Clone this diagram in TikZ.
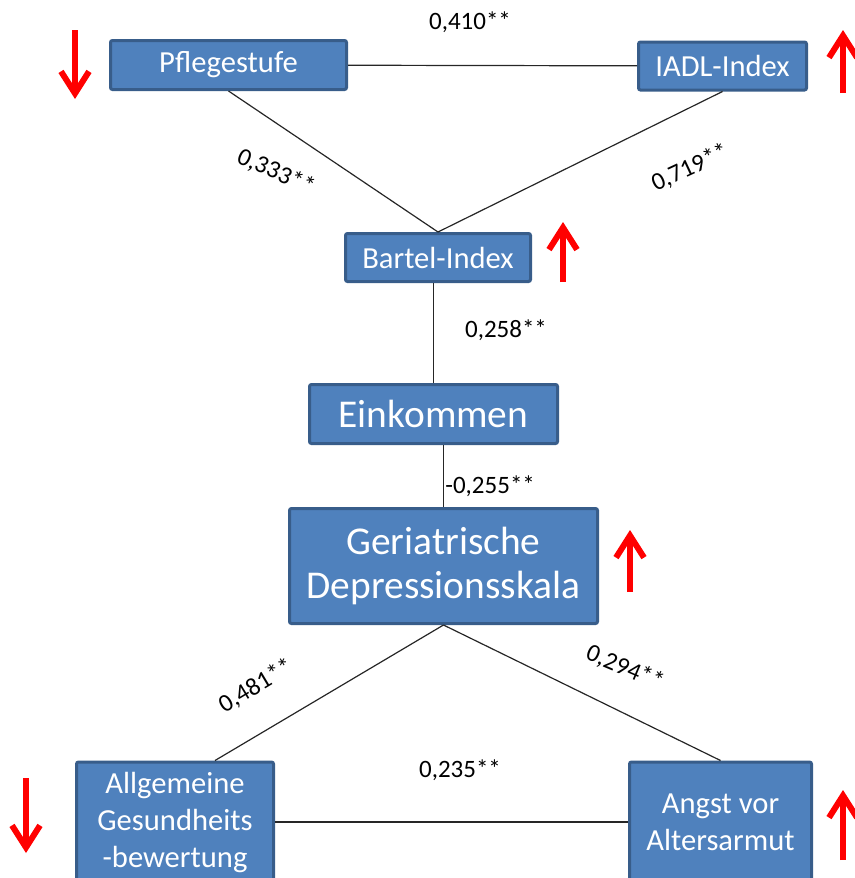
\documentclass[tikz,border=0pt]{standalone}
\usepackage{fontspec}
\setmainfont{Carlito}
\usetikzlibrary{arrows.meta}
\definecolor{boxblue}{HTML}{4F81BD}
\definecolor{boxline}{HTML}{385D8A}
\definecolor{trendred}{HTML}{FF0000}
\begin{document}
\begin{tikzpicture}[x=0.5pt,y=-0.5pt,
                var/.style={draw=boxline,fill=boxblue,line width=1.5pt,rounded corners=1pt,text=white,align=center,inner sep=0pt,font=\fontsize{15.3}{18.5}\selectfont},
                bigvar/.style={var,font=\fontsize{19.7}{22}\selectfont},
                corr/.style={inner sep=0pt,font=\fontsize{12.5}{15}\selectfont},
                link/.style={draw=black!85,line width=0.6pt},
                trend/.style={draw=trendred,line width=3pt,-{Straight Barb[length=11pt,width=14pt]}}]
                \useasboundingbox (0,0) rectangle (855,878);
                \node[var,minimum width=118pt,minimum height=24.5pt] (pflege) at (228.5,65) {Pflegestufe};
                \node[var,minimum width=84pt,minimum height=24pt] (iadl) at (722.5,66) {IADL-Index};
                \node[var,minimum width=92.5pt,minimum height=24pt] (bartel) at (438,257.5) {Bartel-Index};
                \node[bigvar,minimum width=124pt,minimum height=29.5pt] (einkommen) at (433.5,414) {Einkommen};
                \node[bigvar,minimum width=154pt,minimum height=57.5pt] (gds) at (443.5,566) {Geriatrische\\Depressionsskala};
                \node[var,minimum width=98.5pt,minimum height=60pt] (allg) at (175,822) {Allgemeine\\Gesundheits\\-bewertung};
                \node[var,minimum width=91pt,minimum height=60pt] (angst) at (720.5,822) {Angst vor\\Altersarmut};
                \draw[link] (pflege) -- (iadl);
                \draw[link] (pflege.south) -- (bartel.north);
                \draw[link] (iadl.south) -- (bartel.north);
                \draw[link] (einkommen.north) -- (einkommen.north |- bartel.south);
                \draw[link] (gds.north) -- (gds.north |- einkommen.south);
                \draw[link] (gds.south) -- ([xshift=20pt]allg.north);
                \draw[link] (gds.south) -- (angst.north);
                \draw[link] (allg) -- (angst);
                \node[corr] (r410) at (470,22) {0,410**};
                \node[corr,rotate=-24] (r333) at (276,172) {0,333**};
                \node[corr,rotate=25] (r719) at (690,168) {0,719**};
                \node[corr] (r258) at (506,330) {0,258**};
                \node[corr,anchor=west] (r255) at (445,486) {-0,255**};
                \node[corr,rotate=31] (r481) at (256,686) {0,481**};
                \node[corr,rotate=-23] (r294) at (625,668) {0,294**};
                \node[corr] (r235) at (460,770) {0,235**};
                \draw[trend] (75,30) -- (75,99);
                \draw[trend] (843,93) -- (843,30);
                \draw[trend] (563,282) -- (563,222);
                \draw[trend] (630,592) -- (630,530);
                \draw[trend] (26,778) -- (26,853);
                \draw[trend] (843,860) -- (843,790);
\end{tikzpicture}
\end{document}
